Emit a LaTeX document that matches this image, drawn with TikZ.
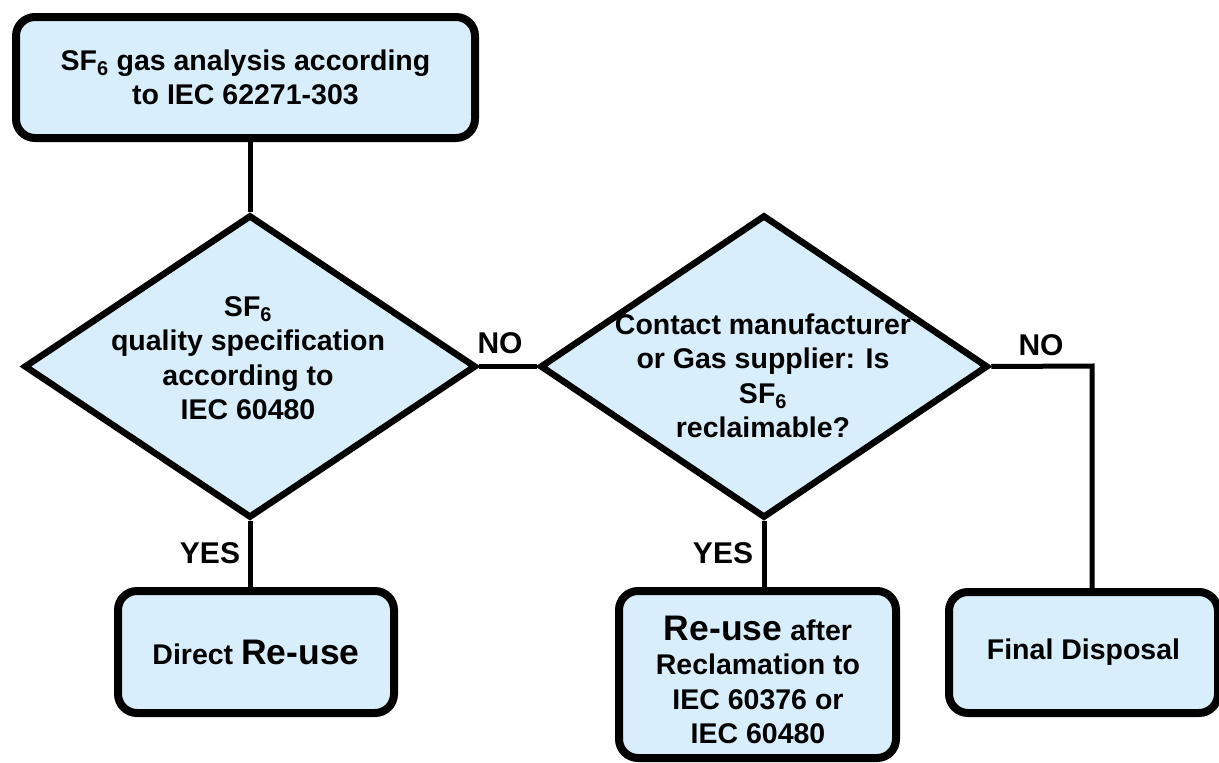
\documentclass[tikz,border=0pt]{standalone}
\usepackage{fontspec}
\setmainfont{Liberation Sans}
\usetikzlibrary{shapes.geometric}
\definecolor{boxfill}{RGB}{217,238,251}
\tikzset{
  boxnode/.style={draw, line width=8pt, fill=boxfill, rounded corners=19pt,
    align=center, inner sep=0pt,
    font=\bfseries\fontsize{28.5}{34.5}\selectfont},
  dianode/.style={draw, line width=6.5pt, fill=boxfill, diamond, inner sep=0pt},
  diatext/.style={align=center, inner sep=0pt,
    font=\bfseries\fontsize{28.5}{34.5}\selectfont},
  conn/.style={line width=5pt},
  lab/.style={inner sep=0pt, font=\bfseries\fontsize{30}{34}\selectfont}
}
\begin{document}
\begin{tikzpicture}[x=1pt,y=-1pt]
\useasboundingbox (0,0) rectangle (1219,763);

% boxes
\node[boxnode, minimum width=459pt, minimum height=121pt] (top) at (245.5,77.5)
  {SF\textsubscript{6} gas analysis according\\to IEC 62271-303};
\node[boxnode, minimum width=276pt, minimum height=122pt] (b1) at (256,652)
  {Direct {\fontsize{35.5}{34}\selectfont Re-use}};
\node[boxnode, minimum width=277pt, minimum height=167pt] (b2) at (757.5,674.5) {};
\node[diatext] (b2t) at (758,680)
  {{\fontsize{35.5}{34}\selectfont Re-use} after\\Reclamation to\\IEC 60376 or\\IEC 60480};
\node[boxnode, minimum width=269pt, minimum height=121pt] (b3) at (1083.5,652.5)
  {Final Disposal};

% diamonds
\node[dianode, minimum width=452pt, minimum height=303pt] (d1) at (250,366.5) {};
\node[diatext] (d1t) at (248,358)
  {SF\textsubscript{6}\\quality specification\\according to\\IEC 60480};
\node[dianode, minimum width=448pt, minimum height=303pt] (d2) at (764,366.5) {};
\node[diatext] (d2t) at (763,376)
  {Contact manufacturer\\or Gas supplier: Is\\SF\textsubscript{6}\\reclaimable?};

% connectors
\coordinate (c3) at (1092,366);
\draw[conn] (d1.north) -- (d1.north |- top.south);
\draw[conn] (d1.east) -- (d2.west);
\draw[conn] (d1.south) -- (d1.south |- b1.north);
\draw[conn] (d2.south) -- (d2.south |- b2.north);
\draw[conn] (d2.east) -- (c3) -- (c3 |- b3.north);

% labels
\node[lab] (no1) at (500,343) {NO};
\node[lab] (no2) at (1041,345) {NO};
\node[lab] (yes1) at (210,553) {YES};
\node[lab] (yes2) at (723,553) {YES};
\end{tikzpicture}
\end{document}
